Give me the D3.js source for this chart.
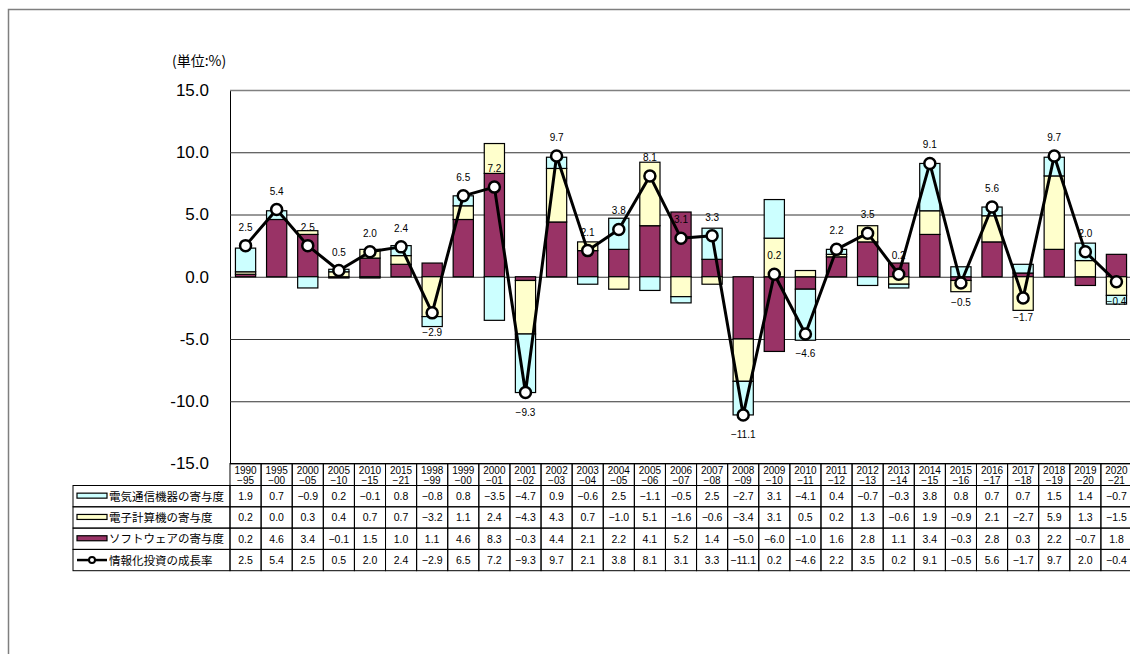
<!DOCTYPE html>
<html>
<head>
<meta charset="utf-8">
<script src="https://cdn.jsdelivr.net/npm/d3@7"></script>
<style>
  body { margin: 0; background: #fff; }
  text { font-family: "Liberation Sans", Arial, "Noto Sans CJK JP", sans-serif; fill: #000; }
  .jp { font-family: "Noto Sans CJK JP", sans-serif; }
</style>
</head>
<body>
<div id="chart"></div>
<script>
const periods = ['1990-95', '1995-00', '2000-05', '2005-10', '2010-15', '2015-21',
  '1998-99', '1999-00', '2000-01', '2001-02', '2002-03', '2003-04', '2004-05', '2005-06',
  '2006-07', '2007-08', '2008-09', '2009-10', '2010-11', '2011-12', '2012-13', '2013-14',
  '2014-15', '2015-16', '2016-17', '2017-18', '2018-19', '2019-20', '2020-21'];

// 電気通信機器の寄与度
const telecom = [1.9, 0.7, -0.9, 0.2, -0.1, 0.8, -0.8, 0.8, -3.5, -4.7, 0.9, -0.6, 2.5, -1.1,
  -0.5, 2.5, -2.7, 3.1, -4.1, 0.4, -0.7, -0.3, 3.8, 0.8, 0.7, 0.7, 1.5, 1.4, -0.7];
// 電子計算機の寄与度
const computer = [0.2, 0.0, 0.3, 0.4, 0.7, 0.7, -3.2, 1.1, 2.4, -4.3, 4.3, 0.7, -1.0, 5.1,
  -1.6, -0.6, -3.4, 3.1, 0.5, 0.2, 1.3, -0.6, 1.9, -0.9, 2.1, -2.7, 5.9, 1.3, -1.5];
// ソフトウェアの寄与度
const software = [0.2, 4.6, 3.4, -0.1, 1.5, 1.0, 1.1, 4.6, 8.3, -0.3, 4.4, 2.1, 2.2, 4.1,
  5.2, 1.4, -5.0, -6.0, -1.0, 1.6, 2.8, 1.1, 3.4, -0.3, 2.8, 0.3, 2.2, -0.7, 1.8];
// 情報化投資の成長率
const growth = [2.5, 5.4, 2.5, 0.5, 2.0, 2.4, -2.9, 6.5, 7.2, -9.3, 9.7, 2.1, 3.8, 8.1,
  3.1, 3.3, -11.1, 0.2, -4.6, 2.2, 3.5, 0.2, 9.1, -0.5, 5.6, -1.7, 9.7, 2.0, -0.4];

const yTicks = [-15, -10, -5, 0, 5, 10, 15];

const series = [
  { key: 'telecom', name: '電気通信機器の寄与度', color: '#ccffff', values: telecom },
  { key: 'computer', name: '電子計算機の寄与度', color: '#ffffcc', values: computer },
  { key: 'software', name: 'ソフトウェアの寄与度', color: '#993366', values: software }
];

const width = 1130, height = 654;
const plot = { left: 230, top: 90, right: 1132, bottom: 463.5 };

const svg = d3.select('#chart')
  .append('svg')
  .attr('width', width)
  .attr('height', height);

// outer chart frame
svg.append('rect')
  .attr('x', 8.5).attr('y', 9.5)
  .attr('width', 1200).attr('height', 700)
  .attr('fill', 'none')
  .attr('stroke', '#7f7f7f')
  .attr('stroke-width', 1.5);

const x = d3.scaleBand()
  .domain(periods)
  .range([plot.left, plot.right])
  .paddingInner(0.35)
  .paddingOuter(0.175);

const y = d3.scaleLinear()
  .domain([-15, 15])
  .range([plot.bottom, plot.top]);

const fmt = d3.format('.1f');
const cx = d => x(d) + x.bandwidth() / 2;
const colLeft = d => x(d) - (x.step() - x.bandwidth()) / 2;

// grid + y axis
const yAxis = d3.axisLeft(y)
  .tickValues(yTicks)
  .tickSize(-(plot.right - plot.left))
  .tickSizeOuter(0)
  .tickPadding(21)
  .tickFormat(d => d.toFixed(1));

const gy = svg.append('g')
  .attr('transform', `translate(${plot.left},0)`)
  .call(yAxis);
gy.select('.domain').attr('stroke', '#000').attr('stroke-width', 1);
gy.selectAll('.tick line')
  .attr('stroke', d => d === 15 ? '#808080' : '#333')
  .attr('stroke-width', d => d === 15 ? 1.5 : 1);
gy.selectAll('.tick text')
  .attr('font-size', 17)
  .attr('fill', '#000');

svg.append('text')
  .attr('class', 'jp')
  .attr('x', 172)
  .attr('y', 66)
  .attr('font-size', 14)
  .text('(単位:%)');

// stacked bars
const rows = periods.map((p, i) => ({
  period: p, software: software[i], computer: computer[i], telecom: telecom[i]
}));
const stacked = d3.stack()
  .keys(['software', 'computer', 'telecom'])
  .offset(d3.stackOffsetDiverging)(rows);
const colorOf = k => series.find(s => s.key === k).color;

svg.append('g')
  .selectAll('g')
  .data(stacked)
  .enter()
  .append('g')
  .attr('fill', d => colorOf(d.key))
  .selectAll('rect')
  .data(d => d)
  .enter()
  .append('rect')
  .attr('x', d => x(d.data.period))
  .attr('width', x.bandwidth())
  .attr('y', d => y(Math.max(d[0], d[1])))
  .attr('height', d => Math.abs(y(d[0]) - y(d[1])))
  .attr('stroke', '#000')
  .attr('stroke-width', 1.2);

// growth line
const line = d3.line()
  .x((d, i) => cx(periods[i]))
  .y(d => y(d));

svg.append('path')
  .datum(growth)
  .attr('fill', 'none')
  .attr('stroke', '#000')
  .attr('stroke-width', 3)
  .attr('stroke-linejoin', 'round')
  .attr('d', line);

svg.append('g')
  .selectAll('circle')
  .data(growth)
  .enter()
  .append('circle')
  .attr('cx', (d, i) => cx(periods[i]))
  .attr('cy', d => y(d))
  .attr('r', 5.5)
  .attr('fill', '#fff')
  .attr('stroke', '#000')
  .attr('stroke-width', 2.5);

svg.append('g')
  .selectAll('text')
  .data(growth)
  .enter()
  .append('text')
  .attr('x', (d, i) => cx(periods[i]))
  .attr('y', d => d < 0 ? y(d) + 23 : y(d) - 15)
  .attr('text-anchor', 'middle')
  .attr('font-size', 10)
  .attr('fill', '#222')
  .text(d => fmt(d));

// data table under the chart
const headH = 22, rowH = 21.3;
const legendLeft = 73;
const table = svg.append('g');

const head = table.selectAll('.head')
  .data(periods)
  .enter()
  .append('g')
  .attr('class', 'head');
head.append('rect')
  .attr('x', d => colLeft(d))
  .attr('y', plot.bottom)
  .attr('width', x.step())
  .attr('height', headH)
  .attr('fill', 'none')
  .attr('stroke', '#000');
head.append('text')
  .attr('x', d => cx(d))
  .attr('y', plot.bottom + 10)
  .attr('text-anchor', 'middle')
  .attr('font-size', 10)
  .text(d => d.split('-')[0]);
head.append('text')
  .attr('x', d => cx(d))
  .attr('y', plot.bottom + 20)
  .attr('text-anchor', 'middle')
  .attr('font-size', 10)
  .text(d => '−' + d.split('-')[1]);

const tableRows = series.concat([{ key: 'growth', name: '情報化投資の成長率', values: growth }]);

const tr = table.selectAll('.row')
  .data(tableRows)
  .enter()
  .append('g')
  .attr('class', 'row')
  .attr('transform', (d, i) => `translate(0,${plot.bottom + headH + i * rowH})`);

tr.append('rect')
  .attr('x', legendLeft)
  .attr('y', 0)
  .attr('width', plot.left - legendLeft)
  .attr('height', rowH)
  .attr('fill', 'none')
  .attr('stroke', '#000');

tr.filter(d => d.key !== 'growth')
  .append('rect')
  .attr('x', 77)
  .attr('y', rowH / 2 - 3)
  .attr('width', 30)
  .attr('height', 5)
  .attr('fill', d => d.color)
  .attr('stroke', '#000')
  .attr('stroke-width', 1.2);

const growthRow = tr.filter(d => d.key === 'growth');
growthRow.append('line')
  .attr('x1', 77).attr('x2', 107)
  .attr('y1', rowH / 2).attr('y2', rowH / 2)
  .attr('stroke', '#000')
  .attr('stroke-width', 2.5);
growthRow.append('circle')
  .attr('cx', 92)
  .attr('cy', rowH / 2)
  .attr('r', 3)
  .attr('fill', '#fff')
  .attr('stroke', '#000')
  .attr('stroke-width', 2);

tr.append('text')
  .attr('class', 'jp')
  .attr('x', 109)
  .attr('y', rowH / 2 + 4.5)
  .attr('font-size', 11.5)
  .text(d => d.name);

const cells = tr.selectAll('.cell')
  .data(d => d.values.map((v, i) => ({ v, p: periods[i] })))
  .enter()
  .append('g')
  .attr('class', 'cell');
cells.append('rect')
  .attr('x', d => colLeft(d.p))
  .attr('y', 0)
  .attr('width', x.step())
  .attr('height', rowH)
  .attr('fill', 'none')
  .attr('stroke', '#000');
cells.append('text')
  .attr('x', d => cx(d.p))
  .attr('y', rowH / 2 + 4)
  .attr('text-anchor', 'middle')
  .attr('font-size', 10.5)
  .text(d => fmt(d.v));
</script>
</body>
</html>
